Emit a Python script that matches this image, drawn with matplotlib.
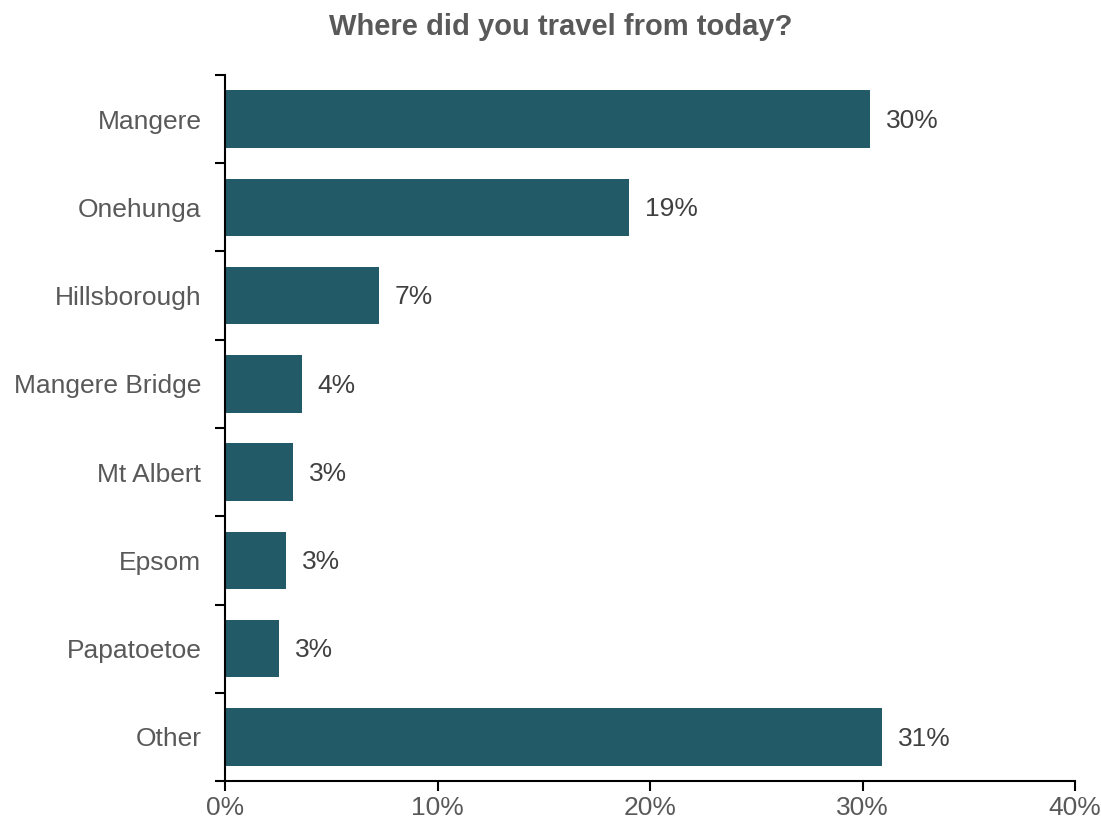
import numpy as np
import matplotlib.pyplot as plt
from matplotlib.ticker import FixedLocator, PercentFormatter

plt.rcParams['font.family'] = ['Liberation Sans', 'DejaVu Sans']

places = ["Mangere", "Onehunga", "Hillsborough", "Mangere Bridge",
          "Mt Albert", "Epsom", "Papatoetoe", "Other"]
share = [30.35, 19.0, 7.25, 3.6, 3.2, 2.85, 2.55, 30.9]
x_ticks = [0, 10, 20, 30, 40]

bar_color = "#235A68"
text_color = "#595959"

fig = plt.figure(figsize=(11.01, 8.21), dpi=100)
ax = fig.add_axes([225 / 1101, 40 / 821, 850 / 1101, 706 / 821])

pos = np.arange(len(places))
ax.barh(pos, share, height=0.65, color=bar_color)

for y, v in zip(pos, share):
    ax.text(v + 0.75, y + 0.02, "{:.0f}%".format(v), va="center", ha="left",
            fontsize=19, color="#404040")

ax.set_xlim(0, 40)
ax.set_ylim(len(places) - 0.5, -0.5)
ax.set_xticks(x_ticks)
ax.xaxis.set_major_formatter(PercentFormatter(decimals=0))
ax.set_yticks(pos)
ax.set_yticklabels(places)
ax.yaxis.set_minor_locator(FixedLocator(np.arange(-0.5, len(places), 1.0)))

ax.tick_params(axis="y", which="major", length=0, pad=17, labelsize=19,
               labelcolor=text_color)
ax.tick_params(axis="y", which="minor", length=7, width=1.5, color="black")
ax.tick_params(axis="x", length=7, width=1.5, color="black", pad=4,
               labelsize=19, labelcolor=text_color)

for side in ["top", "right"]:
    ax.spines[side].set_visible(False)
for side in ["left", "bottom"]:
    ax.spines[side].set_linewidth(1.5)

fig.text(561 / 1101, 1 - 27 / 821, "Where did you travel from today?",
         ha="center", va="center", fontsize=21, fontweight="bold",
         color=text_color)

fig.savefig("out.png", dpi=100)
